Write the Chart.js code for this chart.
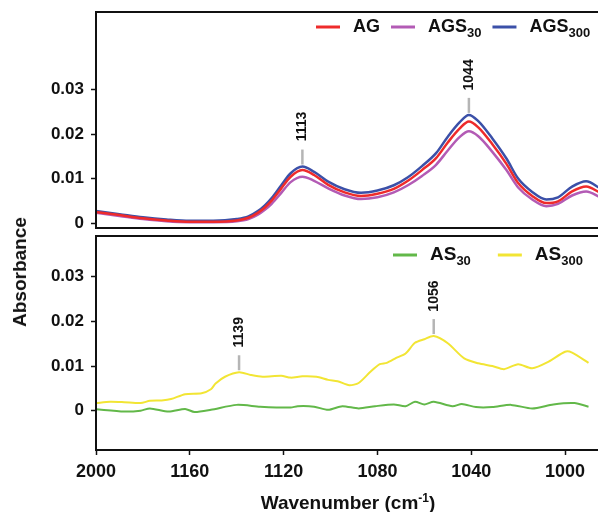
<!DOCTYPE html>
<html>
<head>
<meta charset="utf-8">
<script src="https://cdn.jsdelivr.net/npm/chart.js@4.4.0/dist/chart.umd.min.js"></script>
<style>
html, body { margin: 0; padding: 0; background: #fff; overflow: hidden; width: 598px; height: 512px; }
#wrap { position: relative; width: 604px; height: 512px; }
#top { position: absolute; left: 0; top: 0; }
#bot { position: absolute; left: 0; top: 232px; }
.ytitle { position: absolute; left: 20px; top: 272px; transform: translate(-50%, -50%) rotate(-90deg);
  font: bold 19px "Liberation Sans", Arial, sans-serif; white-space: nowrap; color: #111; }
.xtitle { position: absolute; left: 348px; top: 502px; transform: translate(-50%, -50%);
  font: bold 19px "Liberation Sans", Arial, sans-serif; white-space: nowrap; color: #111; }
.xtitle sup { font-size: 12px; vertical-align: 7px; }
</style>
</head>
<body>
<div id="wrap">
  <canvas id="top" width="604" height="232"></canvas>
  <canvas id="bot" width="604" height="280"></canvas>
  <div class="ytitle">Absorbance</div>
  <div class="xtitle">Wavenumber (cm<sup>-1</sup>)</div>
</div>
<script>
// axis ticks
const xTickVals = [1200, 1160, 1120, 1080, 1040, 1000];
const xTickLabels = ['2000', '1160', '1120', '1080', '1040', '1000'];
const yTickVals = [0, 0.01, 0.02, 0.03];

// top panel spectra
const wnTop = [1200, 1190, 1180, 1170, 1160, 1150, 1140, 1135, 1131, 1128, 1125, 1121, 1117, 1112, 1107, 1101,
  1094, 1087, 1080, 1073, 1067, 1061, 1055, 1050, 1045, 1041, 1037, 1031, 1025, 1020, 1014, 1008, 1003,
  997, 991, 985];
const ag = [0.0025, 0.0018, 0.0011, 0.0006, 0.0003, 0.0003, 0.0006, 0.0012, 0.0023, 0.0035, 0.0051, 0.0078,
  0.0104, 0.0119, 0.0108, 0.0086, 0.0069, 0.0061, 0.0066, 0.0077, 0.0095, 0.0119, 0.0146, 0.0181, 0.0212,
  0.0228, 0.0215, 0.0177, 0.0133, 0.0090, 0.0061, 0.0045, 0.0049, 0.0071, 0.0082, 0.0068];
const ags30 = [0.0023, 0.0016, 0.0009, 0.0004, 0.0002, 0.0002, 0.0004, 0.0009, 0.0019, 0.0030, 0.0044, 0.0068,
  0.0092, 0.0104, 0.0095, 0.0078, 0.0062, 0.0054, 0.0058, 0.0069, 0.0085, 0.0106, 0.0131, 0.0163, 0.0193,
  0.0206, 0.0195, 0.0160, 0.0119, 0.0080, 0.0053, 0.0038, 0.0043, 0.0062, 0.0071, 0.0058];
const ags300 = [0.0027, 0.0020, 0.0013, 0.0008, 0.0005, 0.0005, 0.0009, 0.0015, 0.0027, 0.0040, 0.0057, 0.0085,
  0.0112, 0.0127, 0.0115, 0.0093, 0.0076, 0.0068, 0.0073, 0.0085, 0.0103, 0.0128, 0.0157, 0.0194, 0.0226,
  0.0243, 0.0229, 0.0190, 0.0145, 0.0100, 0.0070, 0.0053, 0.0058, 0.0082, 0.0094, 0.0078];

// bottom panel spectra
const wnAs300 = [1200, 1194, 1188, 1181, 1177, 1172, 1168, 1162, 1155, 1151, 1149, 1145, 1139, 1134, 1129,
  1121, 1117, 1112, 1106, 1101, 1097, 1092, 1088, 1083, 1079, 1076, 1072, 1068, 1064, 1060, 1056, 1050,
  1043, 1037, 1031, 1026, 1020, 1014, 1007, 1000, 997, 990];
const as300 = [0.0017, 0.0020, 0.0019, 0.0017, 0.0022, 0.0023, 0.0026, 0.0037, 0.0039, 0.0048, 0.0061, 0.0076,
  0.0086, 0.0080, 0.0076, 0.0078, 0.0074, 0.0077, 0.0076, 0.0069, 0.0066, 0.0057, 0.0062, 0.0087, 0.0104,
  0.0107, 0.0118, 0.0128, 0.0152, 0.0160, 0.0167, 0.0151, 0.0117, 0.0106, 0.0100, 0.0093, 0.0104, 0.0095,
  0.0110, 0.0132, 0.0130, 0.0107];
const wnAs30 = [1200, 1188, 1181, 1177, 1169, 1162, 1158, 1151, 1140, 1130, 1117, 1114, 1107, 1101, 1095,
  1088, 1081, 1073, 1068, 1064, 1060, 1056, 1048, 1044, 1038, 1031, 1023, 1014, 1005, 996, 990];
const as30 = [0.0003, -0.0002, 0.0000, 0.0005, -0.0002, 0.0004, -0.0003, 0.0002, 0.0013, 0.0009, 0.0007, 0.0010,
  0.0009, 0.0002, 0.0010, 0.0005, 0.0010, 0.0014, 0.0010, 0.0020, 0.0014, 0.0020, 0.0010, 0.0015, 0.0008,
  0.0008, 0.0013, 0.0005, 0.0014, 0.0017, 0.0009];

const topPeaks = ['1113', '1044'];
const bottomPeaks = ['1139', '1056'];

const FONT = '"Liberation Sans", Arial, sans-serif';
const pts = (xs, ys) => xs.map((x, i) => ({ x: x, y: ys[i] }));

// black box round the plot area
const framePlugin = {
  id: 'frame',
  afterDraw(chart) {
    const a = chart.chartArea, ctx = chart.ctx;
    ctx.save();
    ctx.strokeStyle = '#111';
    ctx.lineWidth = 2;
    ctx.strokeRect(a.left, a.top, a.right - a.left, a.bottom - a.top);
    ctx.restore();
  }
};

// legend with subscripts, label "AGS_30" -> AGS + sub 30
const subLegend = {
  id: 'subLegend',
  afterDraw(chart, args, opts) {
    const ctx = chart.ctx;
    let x = opts.x;
    ctx.save();
    ctx.textBaseline = 'middle';
    ctx.fillStyle = '#111';
    chart.data.datasets.forEach(ds => {
      const [main, sub] = ds.label.split('_');
      ctx.strokeStyle = ds.borderColor;
      ctx.lineWidth = 3;
      ctx.beginPath();
      ctx.moveTo(x, opts.y);
      ctx.lineTo(x + 24, opts.y);
      ctx.stroke();
      x += 24 + 13;
      ctx.font = 'bold ' + opts.size + 'px ' + FONT;
      ctx.fillText(main, x, opts.y);
      x += ctx.measureText(main).width;
      if (sub) {
        ctx.font = 'bold 13px ' + FONT;
        ctx.fillText(sub, x, opts.y + 6);
        x += ctx.measureText(sub).width;
      }
      x += opts.gap;
    });
    ctx.restore();
  }
};

// peak labels: grey line + vertical number above the highest curve
const peakMarks = {
  id: 'peakMarks',
  afterDatasetsDraw(chart, args, opts) {
    const ctx = chart.ctx, xs = chart.scales.x, ys = chart.scales.y;
    ctx.save();
    opts.labels.forEach(lbl => {
      const target = Number(lbl);
      let best = null;
      chart.data.datasets.forEach(ds => {
        ds.data.forEach(p => {
          if (Math.abs(p.x - target) <= 4 && (!best || p.y > best.y)) best = p;
        });
      });
      if (!best) return;
      const px = xs.getPixelForValue(best.x), py = ys.getPixelForValue(best.y);
      ctx.strokeStyle = '#b5b5b5';
      ctx.lineWidth = 2.5;
      ctx.beginPath();
      ctx.moveTo(px, py - 2);
      ctx.lineTo(px, py - 17);
      ctx.stroke();
      ctx.translate(px, py - 40);
      ctx.rotate(-Math.PI / 2);
      ctx.fillStyle = '#111';
      ctx.font = 'bold 14px ' + FONT;
      ctx.textAlign = 'center';
      ctx.textBaseline = 'middle';
      ctx.fillText(lbl, 0, 0);
      ctx.setTransform(1, 0, 0, 1, 0, 0);
    });
    ctx.restore();
  }
};

function yAxis(min, max) {
  return {
    min: min, max: max,
    afterFit(s) { s.width = 96; s.paddingTop = 0; s.paddingBottom = 0; },
    afterBuildTicks(s) { s.ticks = yTickVals.map(v => ({ value: v })); },
    border: { display: false },
    grid: { drawOnChartArea: false, drawTicks: true, tickLength: 5, tickColor: '#111', tickWidth: 1.5 },
    ticks: {
      padding: 7, color: '#111',
      font: { family: FONT, size: 17, weight: 'bold' },
      callback: v => v === 0 ? '0' : v.toFixed(2)
    }
  };
}

function xAxis(show) {
  return {
    type: 'linear', reverse: true, min: 985.1, max: 1200,
    display: show,
    afterFit(s) { s.height = show ? 62 : 0; s.paddingLeft = 0; s.paddingRight = 0; },
    afterBuildTicks(s) { s.ticks = xTickVals.map(v => ({ value: v })); },
    border: { display: false },
    grid: { drawOnChartArea: false, drawTicks: true, tickLength: 5, tickColor: '#111', tickWidth: 1.5 },
    ticks: {
      padding: 6, color: '#111', maxRotation: 0,
      font: { family: FONT, size: 18, weight: 'bold' },
      callback: v => xTickLabels[xTickVals.indexOf(v)]
    }
  };
}

const common = { animation: false, responsive: false, events: [] };

new Chart(document.getElementById('top'), {
  type: 'line',
  data: {
    datasets: [
      { label: 'AG', data: pts(wnTop, ag), borderColor: '#ee2b2b', borderWidth: 2.5 },
      { label: 'AGS_30', data: pts(wnTop, ags30), borderColor: '#b35bb5', borderWidth: 2.5 },
      { label: 'AGS_300', data: pts(wnTop, ags300), borderColor: '#3b50a8', borderWidth: 2.5 }
    ].map(d => Object.assign(d, { pointRadius: 0, cubicInterpolationMode: 'monotone' }))
  },
  options: Object.assign({}, common, {
    layout: { padding: { top: 12, bottom: 4, left: 0, right: 4 } },
    scales: { x: xAxis(false), y: yAxis(-0.0011, 0.0474) },
    plugins: {
      legend: { display: false }, tooltip: { enabled: false },
      subLegend: { x: 316, y: 27, size: 18, gap: 11 },
      peakMarks: { labels: topPeaks }
    }
  }),
  plugins: [framePlugin, subLegend, peakMarks]
});

new Chart(document.getElementById('bot'), {
  type: 'line',
  data: {
    datasets: [
      { label: 'AS_30', data: pts(wnAs30, as30), borderColor: '#62b849', borderWidth: 2 },
      { label: 'AS_300', data: pts(wnAs300, as300), borderColor: '#f2e534', borderWidth: 2 }
    ].map(d => Object.assign(d, { pointRadius: 0, tension: 0.25 }))
  },
  options: Object.assign({}, common, {
    layout: { padding: { top: 4, bottom: 0, left: 0, right: 4 } },
    scales: { x: xAxis(true), y: yAxis(-0.0088, 0.0391) },
    plugins: {
      legend: { display: false }, tooltip: { enabled: false },
      subLegend: { x: 393, y: 23, size: 19, gap: 27 },
      peakMarks: { labels: bottomPeaks }
    }
  }),
  plugins: [framePlugin, subLegend, peakMarks]
});
</script>
</body>
</html>
